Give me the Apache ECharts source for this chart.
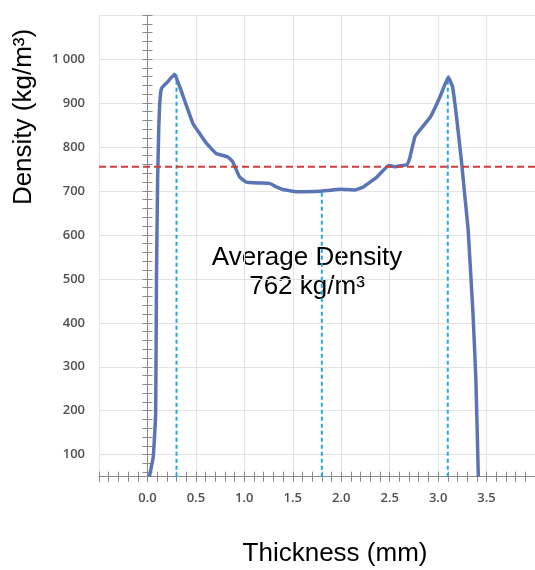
<!DOCTYPE html>
<html>
<head>
<meta charset="utf-8">
<script src="https://cdn.jsdelivr.net/npm/echarts@6/dist/echarts.min.js"></script>
<style>
html,body{margin:0;padding:0;background:#fff;}
#chart{width:535px;height:570px;}
</style>
</head>
<body>
<div id="chart"></div>
<script>
// ---- data ----
var thickness = [0.02, 0.06, 0.085, 0.093, 0.105, 0.117, 0.127, 0.145, 0.20, 0.28, 0.37, 0.47, 0.54, 0.61, 0.71, 0.83, 0.88, 0.95, 1.02, 1.16, 1.26, 1.33, 1.40, 1.54, 1.78, 1.99, 2.14, 2.23, 2.37, 2.49, 2.55, 2.68, 2.71, 2.76, 2.81, 2.92, 3.02, 3.105, 3.15, 3.19, 3.24, 3.28, 3.31, 3.36, 3.39, 3.415];
var density   = [50, 95, 194, 497, 724, 845, 899, 933, 946, 965, 914, 853, 830, 808, 785, 777, 766, 732, 720, 718, 717, 709, 703, 698, 699, 704, 702, 709, 732, 758, 755, 760, 777, 823, 838, 868, 914, 959, 936, 868, 770, 679, 611, 421, 270, 50];
var markerX   = [0.3, 1.8, 3.1];
var markerTop = [965, 699, 959];
var avgLineValue = 755;
var avgDensityLabel = 762;
var xRange = [-0.5, 4.0];
var yRange = [50, 1100];
var yLabelValues = [100, 200, 300, 400, 500, 600, 700, 800, 900, 1000];
var yGridValues  = [100, 200, 300, 400, 500, 600, 700, 800, 900, 1000, 1100];
var yMinorTicks  = [60, 80, 100, 120, 140, 160, 180, 200, 220, 240, 260, 280, 300, 320, 340, 360, 380, 400, 420, 440, 460, 480, 500, 520, 540, 560, 580, 600, 620, 640, 660, 680, 700, 720, 740, 760, 780, 800, 820, 840, 860, 880, 900, 920, 940, 960, 980, 1000, 1020, 1040, 1060, 1080, 1100];

// ---- chart ----
var chart = echarts.init(document.getElementById('chart'), null, {renderer: 'canvas'});
var tickColor = '#8a8a8a';
var labelStyle = {color: '#505050', fontFamily: 'Open Sans', fontSize: 13, fontWeight: 600};

function tickXAxis(inside) {
  return {type: 'value', min: xRange[0], max: xRange[1], interval: 0.1, position: 'bottom',
    axisLine: {show: false}, axisLabel: {show: false}, splitLine: {show: false},
    axisTick: {show: true, inside: inside, length: 5, lineStyle: {color: tickColor, width: 1}}};
}
function tickYAxis(inside) {
  return {type: 'value', min: yRange[0], max: yRange[1], position: 'left', offset: 3,
    axisLine: {show: false}, axisLabel: {show: false}, splitLine: {show: false},
    axisTick: {show: true, inside: inside, length: 5, customValues: yMinorTicks, lineStyle: {color: tickColor, width: 1}}};
}

var curve = thickness.map(function (t, i) { return [t, density[i]]; });

var series = [];
markerX.forEach(function (x, i) {
  series.push({type: 'line', xAxisIndex: 0, yAxisIndex: 0, data: [[x, yRange[0]], [x, markerTop[i]]],
    symbol: 'none', silent: true, z: 2,
    lineStyle: {color: '#27a6dc', width: 2, type: [4, 3]}});
});
series.push({type: 'line', xAxisIndex: 0, yAxisIndex: 0, data: curve, symbol: 'none', z: 3, smooth: 0.1,
  lineStyle: {color: '#5a74b6', width: 3.5}});
series.push({type: 'line', xAxisIndex: 0, yAxisIndex: 0, data: [[xRange[0], avgLineValue], [xRange[1], avgLineValue]],
  symbol: 'none', silent: true, z: 4, lineStyle: {color: '#d23b3b', width: 2, type: [7, 4]}});

chart.setOption({
  animation: false,
  backgroundColor: '#fff',
  grid: {left: 99, right: 0, top: 15, bottom: 93.3, containLabel: false, outerBoundsMode: 'none'},
  xAxis: [
    {type: 'value', min: xRange[0], max: xRange[1], interval: 0.5, position: 'bottom',
      axisLine: {show: true, lineStyle: {color: tickColor, width: 1}},
      axisTick: {show: false},
      axisLabel: Object.assign({margin: 15, formatter: function (v) {
        if (v < -0.01 || v > 3.51) return '';
        return v.toFixed(1);
      }}, labelStyle),
      splitLine: {show: true, lineStyle: {color: '#e4e4e4', width: 1}}},
    tickXAxis(false),
    tickXAxis(true)
  ],
  yAxis: [
    {type: 'value', min: yRange[0], max: yRange[1], position: 'left', offset: 3,
      axisLine: {show: true, lineStyle: {color: tickColor, width: 1}},
      axisTick: {show: false, customValues: yGridValues},
      axisLabel: Object.assign({margin: 11, customValues: yLabelValues, formatter: function (v) {
        return v === 1000 ? '1 000' : String(v);
      }}, labelStyle),
      splitLine: {show: true, lineStyle: {color: '#e4e4e4', width: 1}}},
    tickYAxis(false),
    tickYAxis(true)
  ],
  series: series,
  graphic: [
    {type: 'text', x: 24, y: 117, rotation: Math.PI / 2,
      style: {text: 'Density (kg/m³)', font: '26px "Liberation Sans"', fill: '#000', textAlign: 'center', textVerticalAlign: 'middle'}},
    {type: 'text', x: 335, y: 554,
      style: {text: 'Thickness (mm)', font: '26px "Liberation Sans"', fill: '#000', textAlign: 'center', textVerticalAlign: 'middle'}},
    {type: 'text', x: 307, y: 258,
      style: {text: 'Average Density', font: '26px "Liberation Sans"', fill: '#000', textAlign: 'center', textVerticalAlign: 'middle'}},
    {type: 'text', x: 307, y: 287,
      style: {text: avgDensityLabel + ' kg/m³', font: '26px "Liberation Sans"', fill: '#000', textAlign: 'center', textVerticalAlign: 'middle'}}
  ]
});
</script>
</body>
</html>
